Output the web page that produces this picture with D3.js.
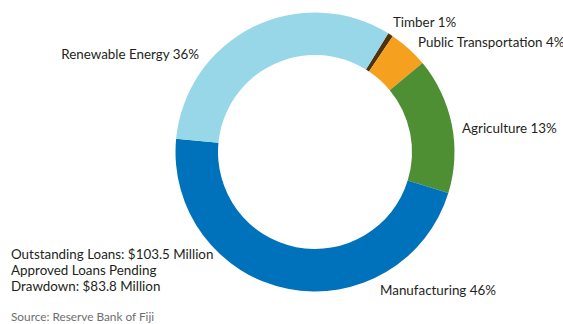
<!DOCTYPE html>
<html><head><meta charset="utf-8">
<script src="https://cdn.jsdelivr.net/npm/d3@7"></script>
<style>
html,body{margin:0;padding:0;background:#fff;}
svg text{font-family:"Lato","Open Sans",sans-serif;}
</style></head>
<body>
<svg id="chart" width="563" height="324"></svg>
<script>
// Data (slice shares as drawn, clockwise from Timber)
const categories = ["Timber", "Public Transportation", "Agriculture", "Manufacturing", "Renewable Energy"];
const drawnShares = [0.6, 4.6, 15.75, 46.75, 32.3];
const labelPercents = [1, 4, 13, 46, 36];
const colors = ["#4F320C", "#F5A11F", "#4F8F34", "#0072BB", "#97D7E8"];
const noteLines = ["Outstanding Loans: $103.5 Million", "Approved Loans Pending", "Drawdown: $83.8 Million"];
const sourceText = "Source: Reserve Bank of Fiji";

const svg = d3.select("#chart");
const cx = 315, cy = 152, rOuter = 139.5, rInner = 97;
const start = 31.7 * Math.PI / 180;

const pie = d3.pie().sort(null).value(d => d.v).startAngle(start).endAngle(start + 2 * Math.PI);
const data = categories.map((c, i) => ({c, v: drawnShares[i], p: labelPercents[i], col: colors[i]}));
const arcs = pie(data);
const arc = d3.arc().innerRadius(rInner).outerRadius(rOuter);

const g = svg.append("g").attr("transform", `translate(${cx},${cy})`);
g.selectAll("path").data(arcs).join("path")
  .attr("d", arc).attr("fill", d => d.data.col);

// Labels positions (anchor start x, baseline y)
const labelPos = {
  "Timber": [393, 27, "start"],
  "Public Transportation": [418, 47, "start"],
  "Agriculture": [462, 133, "start"],
  "Manufacturing": [380, 295, "start"],
  "Renewable Energy": [199, 59, "end"]
};
svg.selectAll("text.lbl").data(arcs).join("text").attr("class", "lbl")
  .attr("x", d => labelPos[d.data.c][0])
  .attr("y", d => labelPos[d.data.c][1])
  .attr("text-anchor", d => labelPos[d.data.c][2])
  .attr("font-size", 13.4).attr("fill", "#231F20")
  .text(d => `${d.data.c} ${d.data.p}%`);

svg.selectAll("text.note").data(noteLines).join("text").attr("class", "note")
  .attr("x", 11).attr("y", (d, i) => 259 + i * 16)
  .attr("font-size", 13.4).attr("fill", "#231F20").text(d => d);

svg.append("text").attr("x", 11).attr("y", 321)
  .attr("font-size", 11.8).attr("fill", "#6D6E71").text(sourceText);
</script>
</body></html>
